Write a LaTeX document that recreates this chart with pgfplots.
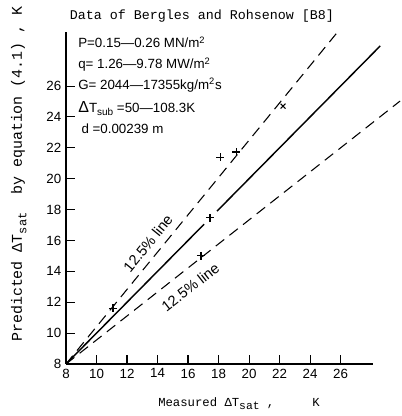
\documentclass[border=0pt]{standalone}
\usepackage{pgfplots}
\pgfplotsset{compat=1.18}
\usepackage{fontspec}
\setmainfont{Liberation Sans}
\newfontfamily\mono{Liberation Mono}
\begin{document}
\begin{tikzpicture}
\useasboundingbox (-49.5pt,-39pt) rectangle (251.25pt,273pt);
\begin{axis}[
  x=11.44pt, y=11.58pt,
  xmin=8, xmax=28.1, ymin=8, ymax=29.5,
  axis x line=bottom, axis y line=left,
  axis line style={-, line width=0.8pt},
  xtick={8,10,...,26}, ytick={8,10,...,26},
  tick align=inside, major tick length=6.5pt,
  tick style={black, line width=0.8pt},
  ticklabel style={font=\fontsize{10}{10}\selectfont},
  /pgf/number format/assume math mode=true,
  clip=false,
]
% 45-degree line (solid, broken around a marker)
\addplot[black, line width=1.1pt] coordinates {(8,8) (17.05,17.05)};
\addplot[black, line width=1.1pt] coordinates {(17.9,17.9) (28.6,28.6)};
% 12.5% lines
\addplot[black, line width=0.8pt, dash pattern=on 8pt off 5pt] coordinates {(8,8) (25.97,29.7)};
\addplot[black, line width=0.8pt, dash pattern=on 8pt off 5pt] coordinates {(8,8) (29.9,25.03)};
% data
\addplot[only marks, mark=+, mark size=3pt, mark options={line width=0.8pt}] coordinates {
  (11.08,11.6) (16.85,15.0) (17.44,17.46) (18.1,21.4) (19.15,21.73)};
\addplot[only marks, mark=x, mark size=2.6pt, mark options={line width=0.8pt}] coordinates {
  (22.23,24.7)};
% line labels
\node[rotate=51, anchor=base, inner sep=0pt, font=\fontsize{11}{11}\selectfont] at (axis cs:13.64,15.6) {12.5\% line};
\node[rotate=38, anchor=base, inner sep=0pt, font=\fontsize{11}{11}\selectfont] at (axis cs:16.36,12.72) {12.5\% line};
% conditions
\node[anchor=base west, font=\fontsize{10}{10}\selectfont, inner sep=0pt] at (axis cs:8.79,28.47) {P=0.15—0.26 MN/m\textsuperscript{2}};
\node[anchor=base west, font=\fontsize{10}{10}\selectfont, inner sep=0pt] at (axis cs:8.79,27.11) {q= 1.26—9.78 MW/m\textsuperscript{2}};
\node[anchor=base west, font=\fontsize{10}{10}\selectfont, inner sep=0pt] at (axis cs:8.79,25.81) {G= 2044—17355kg/m\textsuperscript{2}s};
\node[anchor=base west, font=\fontsize{10}{10}\selectfont, inner sep=0pt] at (axis cs:8.79,24.32) {{\fontsize{12}{12}\selectfont Δ}T\raisebox{-0.5ex}{\fontsize{7.5}{7.5}\selectfont sub} =50—108.3K};
\node[anchor=base west, font=\fontsize{10}{10}\selectfont, inner sep=0pt] at (axis cs:9.0,22.96) {d =0.00239 m};
\end{axis}
\node[font=\mono\fontsize{10}{12}\selectfont] at (102pt,261pt) {Data of Bergles and Rohsenow [B8]};
\node[anchor=base west, inner sep=0pt, font=\mono\fontsize{9.2}{11}\selectfont] at (69pt,-31.5pt)
  {Measured ΔT\raisebox{-0.55ex}{\fontsize{8.5}{9}\selectfont sat}\hspace{5.5pt},\hspace{28.5pt}K};
\node[anchor=base west, rotate=90, inner sep=0pt, font=\mono\fontsize{11.2}{12}\selectfont] at (-33pt,16.5pt)
  {Predicted ΔT\raisebox{-0.55ex}{\fontsize{9}{9}\selectfont sat}\ \ by equation (4.1) , K};
\end{tikzpicture}
\end{document}
